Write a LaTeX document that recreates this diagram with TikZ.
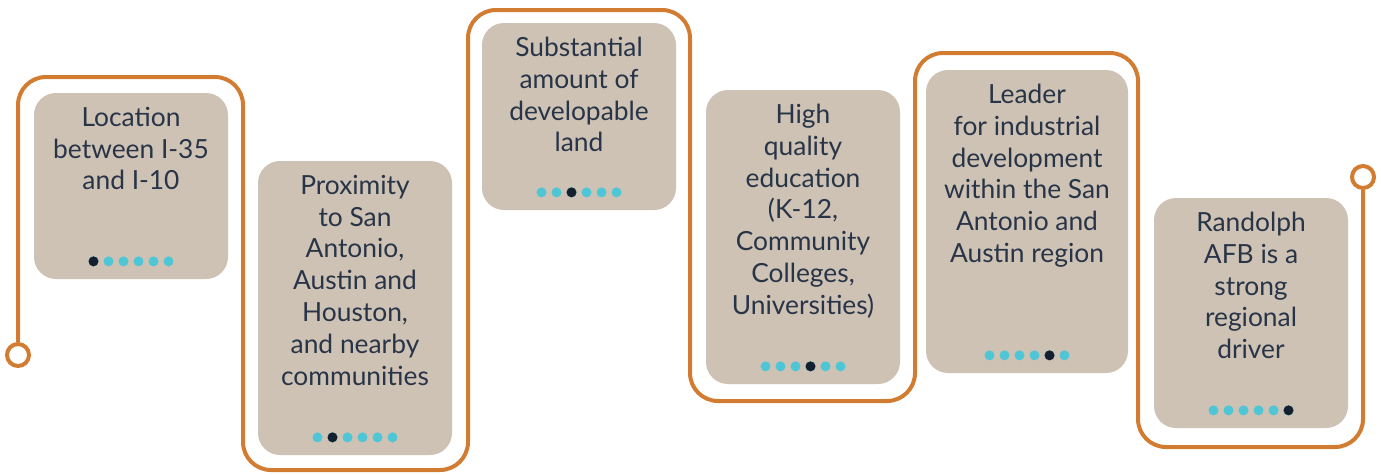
\documentclass[tikz,border=0pt]{standalone}
\usepackage{fontspec}
\setmainfont{Lato}
\usetikzlibrary{calc}
\usetikzlibrary{positioning}

\definecolor{sand}{HTML}{CEC2B4}
\definecolor{rust}{HTML}{D27C32}
\definecolor{dotcyan}{HTML}{4EC6D6}
\definecolor{dotdark}{HTML}{14202F}
\definecolor{ink}{HTML}{283447}

\begin{document}
\begin{tikzpicture}[x=0.02cm, y=-0.02cm,
  card/.style={fill=sand, rounded corners=0.44cm, inner sep=0},
  cardtext/.style={anchor=north, align=center, text=ink, inner sep=0, font=\fontsize{15}{18.1}\selectfont},
  track/.style={rust, line width=0.08cm, rounded corners=0.56cm},
  stop/.style={circle, draw=rust, line width=0.08cm, fill=white, minimum size=0.44cm, inner sep=0}]
\useasboundingbox (0,0) rectangle (1381,474);

\node[stop] (start) at (18,355) {};
\node[stop] (end) at (1363,177) {};
\draw[track] (start) -- (18,77) -- (243,77) -- (243,470) -- (468,470) -- (468,10) -- (690,10) -- (690,401) -- (915,401) -- (915,53) -- (1138,53) -- (1138,447) -- (1363,447) -- (end);

\foreach \i/\l/\r/\t/\b/\txt in {
  0/34/228/93/279/{Location\\between I-35\\and I-10},
  1/258/452/161/455/{Proximity\\to San\\Antonio,\\Austin and\\Houston,\\and nearby\\communities},
  2/482/676/23/210/{Substantial\\amount of\\developable\\land},
  3/706/900/90/384/{High\\quality\\education\\(K-12,\\Community\\Colleges,\\Universities)},
  4/926/1128/70/373/{Leader\\for industrial\\development\\within the San\\Antonio and\\Austin region},
  5/1154/1348/198/428/{Randolph\\AFB is a\\strong\\regional\\driver}}
{
  \node[card, minimum width=(\r-\l)*0.02cm, minimum height=(\b-\t)*0.02cm] (c\i) at ({(\l+\r)/2},{(\t+\b)/2}) {};
  \node[cardtext] (t\i) at ($(c\i.north)+(0,14)$) {\txt};
  \foreach \k in {0,...,5} \fill[dotcyan] ($(c\i.south)+(\k*15-37.5,-18)$) circle (0.1cm);
  \fill[dotdark] ($(c\i.south)+(\i*15-37.5,-18)$) circle (0.1cm);
}

\end{tikzpicture}
\end{document}
